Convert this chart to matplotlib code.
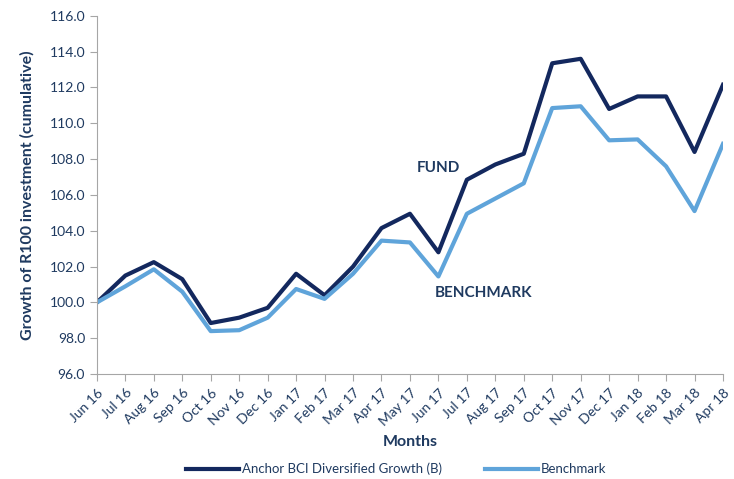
import matplotlib.pyplot as plt

# 월별 라벨
months = ["Jun 16", "Jul 16", "Aug 16", "Sep 16", "Oct 16", "Nov 16", "Dec 16",
          "Jan 17", "Feb 17", "Mar 17", "Apr 17", "May 17", "Jun 17", "Jul 17",
          "Aug 17", "Sep 17", "Oct 17", "Nov 17", "Dec 17", "Jan 18", "Feb 18",
          "Mar 18", "Apr 18"]

# 펀드 누적 성장 (R100 기준)
fund = [100.0, 101.5, 102.25, 101.3, 98.85, 99.15, 99.7, 101.6, 100.4, 102.0,
        104.15, 104.95, 102.8, 106.85, 107.7, 108.3, 113.35, 113.6, 110.8,
        111.5, 111.5, 108.4, 112.15]

# 벤치마크 누적 성장
bench = [100.0, 100.9, 101.85, 100.6, 98.4, 98.45, 99.15, 100.75, 100.2, 101.6,
         103.45, 103.35, 101.45, 104.95, 105.8, 106.65, 110.85, 110.95, 109.05,
         109.1, 107.6, 105.1, 108.85]

yticks = [96.0, 98.0, 100.0, 102.0, 104.0, 106.0, 108.0, 110.0, 112.0, 114.0, 116.0]

navy = "#13285e"
light = "#5fa4da"
txt = "#1f3a60"

plt.rcParams['font.family'] = ['Lato', 'DejaVu Sans']

fig = plt.figure(figsize=(7.34, 4.79), dpi=100)
ax = fig.add_axes([0.132, 0.219, 0.853, 0.748])

x = list(range(len(months)))
ax.plot(x, fund, color=navy, lw=3, label="Anchor BCI Diversified Growth (B)")
ax.plot(x, bench, color=light, lw=3, label="Benchmark")

ax.set_xlim(0, len(months) - 1)
ax.set_ylim(96, 116)
ax.set_yticks(yticks)
ax.set_yticklabels(["%.1f" % v for v in yticks], fontsize=10)
ax.set_xticks(x)
ax.set_xticklabels(months, rotation=45, ha="right", rotation_mode="anchor",
                   fontsize=10)

for s in ["top", "right"]:
    ax.spines[s].set_visible(False)
for s in ["left", "bottom"]:
    ax.spines[s].set_color("#a6a6a6")
ax.tick_params(colors="#a6a6a6", length=5, labelcolor=txt)
ax.tick_params(axis="x", pad=4)

ax.set_xlabel("Months", fontsize=11.5, fontweight="bold", color=txt, labelpad=5)
ax.set_ylabel("Growth of R100 investment (cumulative)", fontsize=11.5,
              fontweight="bold", color=txt, labelpad=11)

ax.text(12.0, 107.5, "FUND", color=txt, fontsize=11, fontweight="bold",
        ha="center", va="center")
ax.text(13.6, 100.5, "BENCHMARK", color=txt, fontsize=11, fontweight="bold",
        ha="center", va="center")

fig.legend(loc="lower center", bbox_to_anchor=(0.54, -0.017), ncol=2, frameon=False,
           fontsize=9.5, handlelength=4, columnspacing=3.3, handletextpad=0.2,
           labelcolor=txt)

fig.savefig("out.png", dpi=100)
